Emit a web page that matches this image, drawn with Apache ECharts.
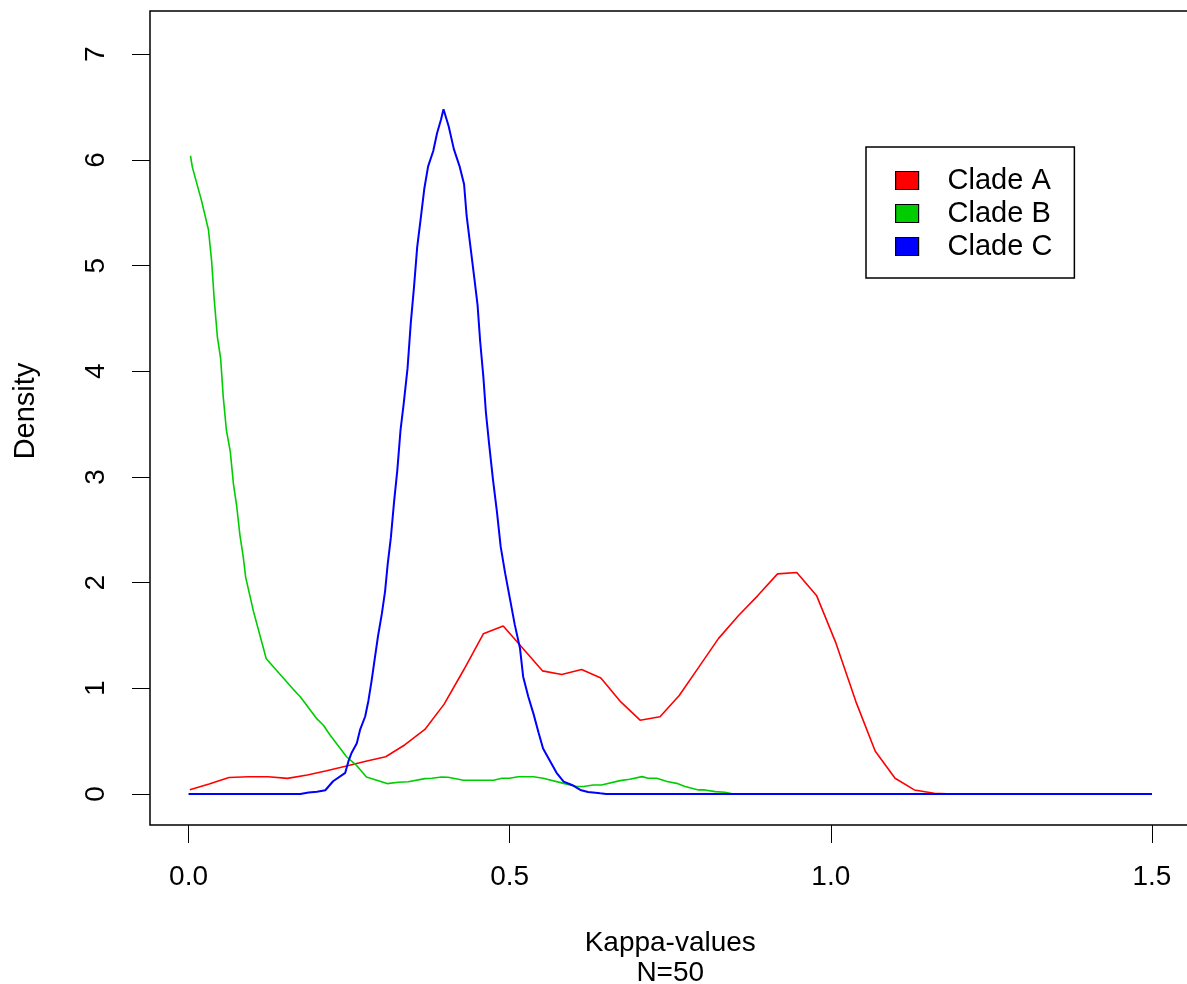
<!DOCTYPE html>
<html>
<head>
<meta charset="utf-8">
<script src="https://cdn.jsdelivr.net/npm/echarts@6/dist/echarts.min.js"></script>
<style>
html,body{margin:0;padding:0;background:#fff;}
#chart{width:1187px;height:984px;}
</style>
</head>
<body>
<div id="chart"></div>
<script>
// ---- data ----
const seriesNames = ['Clade A', 'Clade B', 'Clade C'];
const seriesColors = ['#FF0000', '#00CD00', '#0000FF'];
const seriesWidths = [1.6, 1.6, 2];
const xTicks = [0, 0.5, 1.0, 1.5];
const yTicks = [0, 1, 2, 3, 4, 5, 6, 7];

const cladeA_x = [0.002,0.032,0.063,0.093,0.124,0.154,0.185,0.215,0.246,0.276,0.307,0.337,0.368,0.398,0.429,0.459,0.49,0.551,0.581,0.612,0.642,0.673,0.703,0.734,0.764,0.795,0.825,0.856,0.886,0.917,0.947,0.978,1.008,1.039,1.069,1.1,1.13,1.161,1.191,1.5];
const cladeA_y = [0.04,0.095,0.155,0.163,0.163,0.147,0.18,0.22,0.265,0.31,0.352,0.466,0.61,0.85,1.18,1.515,1.59,1.165,1.13,1.177,1.098,0.871,0.698,0.73,0.931,1.205,1.47,1.686,1.875,2.083,2.096,1.875,1.427,0.874,0.407,0.149,0.038,0.006,0,0];

const cladeB_x = [0.003,0.006,0.02,0.031,0.036,0.04,0.045,0.05,0.054,0.059,0.065,0.07,0.075,0.08,0.085,0.089,0.101,0.121,0.163,0.174,0.2,0.21,0.22,0.233,0.246,0.262,0.277,0.293,0.309,0.327,0.342,0.368,0.379,0.394,0.404,0.428,0.475,0.488,0.5,0.513,0.537,0.552,0.584,0.604,0.615,0.63,0.643,0.672,0.687,0.706,0.716,0.729,0.745,0.76,0.773,0.794,0.804,0.82,0.835,0.845,0.86,1.5];
const cladeB_y = [6.04,5.93,5.62,5.34,5.04,4.68,4.32,4.12,3.76,3.44,3.24,2.93,2.725,2.45,2.25,2.05,1.73,1.28,0.99,0.92,0.71,0.65,0.56,0.457,0.352,0.267,0.16,0.13,0.098,0.11,0.115,0.145,0.148,0.16,0.158,0.13,0.13,0.148,0.148,0.162,0.162,0.148,0.1,0.07,0.07,0.085,0.085,0.126,0.139,0.164,0.148,0.148,0.117,0.1,0.07,0.038,0.038,0.022,0.016,0.004,0,0];

const cladeC_x = [0.0,0.174,0.187,0.2,0.213,0.225,0.244,0.249,0.254,0.262,0.267,0.275,0.28,0.285,0.29,0.295,0.301,0.306,0.31,0.315,0.32,0.325,0.33,0.335,0.341,0.346,0.351,0.356,0.362,0.367,0.373,0.381,0.387,0.393,0.397,0.405,0.413,0.422,0.429,0.433,0.439,0.445,0.45,0.454,0.459,0.463,0.468,0.474,0.48,0.486,0.493,0.5,0.508,0.516,0.521,0.529,0.537,0.545,0.552,0.563,0.573,0.584,0.597,0.61,0.622,0.641,0.65,1.5];
const cladeC_y = [0,0,0.013,0.02,0.035,0.12,0.2,0.31,0.39,0.48,0.606,0.733,0.88,1.07,1.283,1.494,1.706,1.918,2.17,2.425,2.764,3.06,3.44,3.695,4.03,4.456,4.795,5.175,5.47,5.725,5.94,6.085,6.255,6.38,6.48,6.32,6.105,5.94,5.77,5.47,5.175,4.88,4.626,4.287,3.95,3.61,3.31,2.975,2.68,2.34,2.087,1.86,1.6,1.38,1.11,0.92,0.76,0.58,0.43,0.31,0.2,0.117,0.085,0.038,0.019,0.006,0,0];

const xTitle = 'Kappa-values\nN=50';
const yTitle = 'Density';

// ---- chart ----
const FONT = '"Liberation Sans", Arial, sans-serif';
const zip = (xs, ys) => xs.map((x, i) => [x, ys[i]]);
const dataSets = [zip(cladeA_x, cladeA_y), zip(cladeB_x, cladeB_y), zip(cladeC_x, cladeC_y)];

const chart = echarts.init(document.getElementById('chart'), null, {renderer: 'canvas'});
chart.setOption({
  animation: false,
  backgroundColor: '#fff',
  grid: {
    left: 150, top: 11, width: 1040.5, height: 814,
    containLabel: false, outerBoundsMode: 'none',
    show: true, borderColor: '#000', borderWidth: 1.5, backgroundColor: 'transparent'
  },
  xAxis: {
    type: 'value', min: -0.06, max: 1.56,
    splitLine: {show: false},
    axisLine: {show: false, onZero: false},
    axisTick: {show: true, inside: false, length: 18, customValues: xTicks, lineStyle: {color: '#000', width: 1}},
    axisLabel: {customValues: xTicks, margin: 38, fontSize: 28, fontFamily: FONT, color: '#000',
      formatter: v => v.toFixed(1)},
    name: xTitle, nameLocation: 'middle', nameGap: 103,
    nameTextStyle: {fontSize: 28, fontFamily: FONT, color: '#000', lineHeight: 30}
  },
  yAxis: {
    type: 'value', min: -0.294, max: 7.41,
    splitLine: {show: false},
    axisLine: {show: false, onZero: false},
    axisTick: {show: true, inside: false, length: 18, customValues: yTicks, lineStyle: {color: '#000', width: 1}},
    axisLabel: {customValues: yTicks, rotate: 90, margin: 40, fontSize: 28, fontFamily: FONT, color: '#000'},
    name: yTitle, nameLocation: 'middle', nameRotate: 90, nameGap: 110,
    nameTextStyle: {fontSize: 29, fontFamily: FONT, color: '#000', padding: [0, 0, 0, 14]}
  },
  legend: {
    orient: 'vertical', left: 866, top: 147,
    padding: [17, 22, 15, 29],
    itemWidth: 23, itemHeight: 18, itemGap: 0,
    borderColor: '#000', borderWidth: 1.5, backgroundColor: '#fff',
    icon: 'rect',
    itemStyle: {borderColor: '#000', borderWidth: 1.2},
    textStyle: {fontSize: 29, fontFamily: FONT, color: '#000', lineHeight: 33, padding: [0, 0, 0, 24]},
    data: seriesNames
  },
  series: seriesNames.map((name, i) => ({
    name: name,
    type: 'line',
    data: dataSets[i],
    showSymbol: false,
    symbol: 'none',
    smooth: false,
    color: seriesColors[i],
    itemStyle: {color: seriesColors[i]},
    lineStyle: {color: seriesColors[i], width: seriesWidths[i]},
    z: 2 + i
  }))
});
</script>
</body>
</html>
